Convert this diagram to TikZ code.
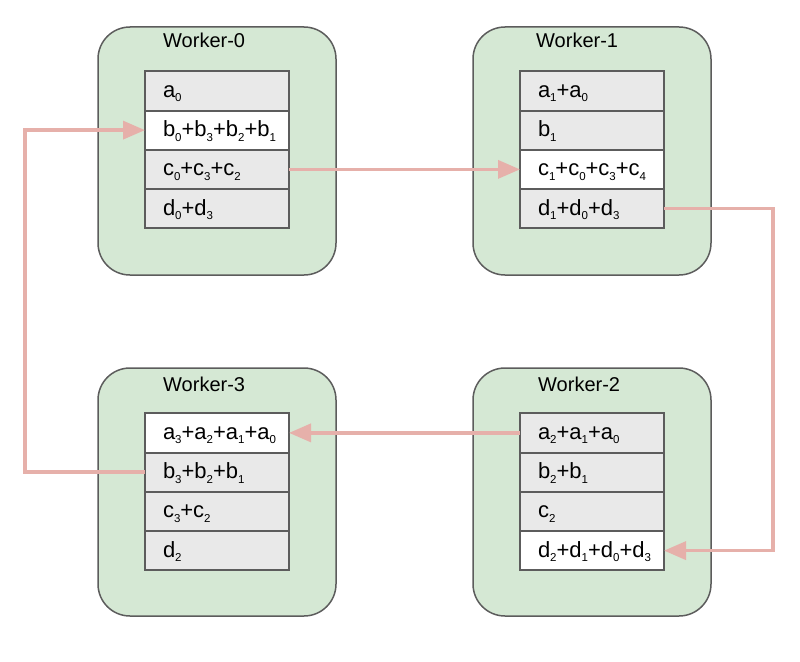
\documentclass[tikz,border=0pt]{standalone}
\usepackage{fontspec}
\setmainfont{Liberation Sans}
\usetikzlibrary{positioning,arrows.meta}
\definecolor{boxgreen}{HTML}{D5E8D4}
\definecolor{cellgray}{HTML}{E9E9E9}
\definecolor{edgegray}{HTML}{5C5C5C}
\definecolor{linkpink}{HTML}{E6B0AA}
\newcommand\ix[1]{\raisebox{-4.5pt}{\fontsize{11.5}{11.5}\selectfont #1}}
\tikzset{
	worker/.style={draw=edgegray, line width=1.5pt, fill=boxgreen, rounded corners=32pt,
		minimum width=238pt, minimum height=248pt},
	title/.style={anchor=base west, inner sep=0pt, font=\fontsize{20}{20}\selectfont},
	cell/.style={draw=edgegray, line width=2pt, fill=cellgray, outer sep=0pt,
		minimum width=144pt, minimum height=39.25pt, text width=108pt, align=left,
		inner xsep=18pt, inner ysep=0pt, text height=16pt, text depth=3pt,
		font=\fontsize{22}{22}\selectfont},
	hot/.style={cell, fill=white},
	conn/.style={draw=linkpink, line width=3.5pt, -{Triangle[length=22pt,width=18pt]}}
}
\begin{document}
\begin{tikzpicture}[x=1pt, y=-1pt]
			\useasboundingbox (0,0) rectangle (800,661);

			\node[worker] (w0) at (217,151){};
			\node[title] (t0) at (163,48){Worker-0};
				\node[cell, below=45pt of w0.north] (w0a){a\ix{0}};
				\node[hot, below=0pt of w0a] (w0b){b\ix{0}+b\ix{3}+b\ix{2}+b\ix{1}};
				\node[cell, below=0pt of w0b] (w0c){c\ix{0}+c\ix{3}+c\ix{2}};
				\node[cell, below=0pt of w0c] (w0d){d\ix{0}+d\ix{3}};

			\node[worker] (w1) at (592,151){};
			\node[title] (t1) at (536,48){Worker-1};
				\node[cell, below=45pt of w1.north] (w1a){a\ix{1}+a\ix{0}};
				\node[cell, below=0pt of w1a] (w1b){b\ix{1}};
				\node[hot, below=0pt of w1b] (w1c){c\ix{1}+c\ix{0}+c\ix{3}+c\ix{4}};
				\node[cell, below=0pt of w1c] (w1d){d\ix{1}+d\ix{0}+d\ix{3}};

			\node[worker] (w2) at (592,492){};
			\node[title] (t2) at (538,391){Worker-2};
				\node[cell, below=46pt of w2.north] (w2a){a\ix{2}+a\ix{1}+a\ix{0}};
				\node[cell, below=0pt of w2a] (w2b){b\ix{2}+b\ix{1}};
				\node[cell, below=0pt of w2b] (w2c){c\ix{2}};
				\node[hot, below=0pt of w2c] (w2d){d\ix{2}+d\ix{1}+d\ix{0}+d\ix{3}};

			\node[worker] (w3) at (217,492){};
			\node[title] (t3) at (163,391){Worker-3};
				\node[hot, below=46pt of w3.north] (w3a){a\ix{3}+a\ix{2}+a\ix{1}+a\ix{0}};
				\node[cell, below=0pt of w3a] (w3b){b\ix{3}+b\ix{2}+b\ix{1}};
				\node[cell, below=0pt of w3b] (w3c){c\ix{3}+c\ix{2}};
				\node[cell, below=0pt of w3c] (w3d){d\ix{2}};

			\coordinate (rgt) at (773,0);
			\coordinate (lft) at (25,0);

			\draw[conn] (w0c.east) -- (w1c.west);
			\draw[conn] (w1d.east) -| (rgt |- w2d.east) -- (w2d.east);
			\draw[conn] (w2a.west) -- (w3a.east);
			\draw[conn] (w3b.west) -| (lft |- w0b.west) -- (w0b.west);
		\end{tikzpicture}
\end{document}
